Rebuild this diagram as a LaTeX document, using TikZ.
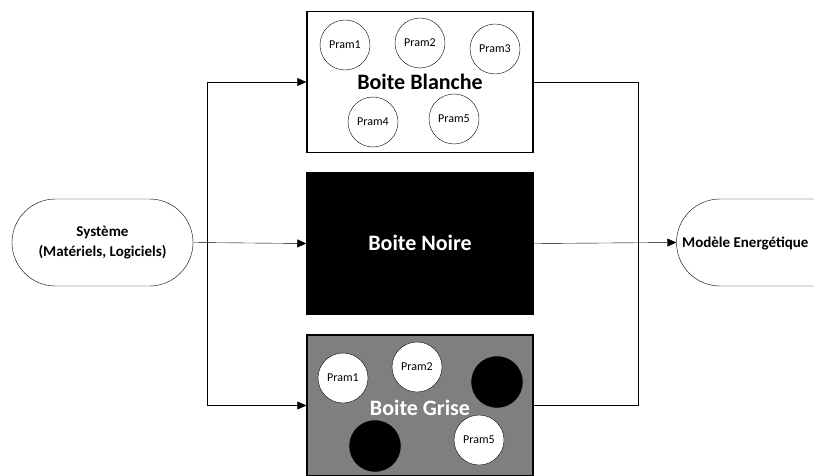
\documentclass[tikz,border=0pt]{standalone}
\usepackage{fontspec}
\setmainfont{Carlito}
\usetikzlibrary{arrows.meta,calc}
\definecolor{boxgrey}{HTML}{7F7F7F}
\tikzset{
  x=1pt,y=1pt,
  line width=1.5pt,
  stadium/.style={draw, rounded corners=43.5pt, minimum width=181pt, minimum height=87pt, inner sep=0pt, align=center, font=\bfseries\fontsize{15}{20}\selectfont},
  bigbox/.style={draw, minimum width=226pt, minimum height=141pt, inner sep=0pt, line width=1.5pt},
  param/.style={draw, circle, minimum size=50pt, inner sep=0pt, fill=white, font=\fontsize{12}{14}\selectfont},
  hidden/.style={draw, circle, minimum size=51pt, inner sep=0pt, fill=black},
  boxlabel/.style={font=\bfseries\fontsize{22}{26}\selectfont, inner sep=0pt},
  arrow/.style={-{Triangle[length=9pt,width=8pt]}},
}
\begin{document}
\begin{tikzpicture}
\useasboundingbox (0,0) rectangle (814,475);
\clip (0,0) rectangle (814,475);
% stadiums
\node[stadium] (sys) at (102.5,232.5) {Système\\(Matériels, Logiciels)};
\node[stadium] (mod) at (767,232.5) {};
\node[anchor=west, inner sep=0pt, font=\bfseries\fontsize{15}{20}\selectfont] (modtext) at (682,232) {Modèle Energétique};
% boxes
\node[bigbox, fill=white] (white) at (420,393) {};
\node[bigbox, fill=black] (black) at (420,231.5) {};
\node[bigbox, fill=boxgrey] (grey) at (420,69.5) {};
% white box contents
\node[param] (w1) at (345,430) {Pram1};
\node[param] (w2) at (420,432) {Pram2};
\node[param] (w3) at (495,426) {Pram3};
\node[param] (w4) at (373,353) {Pram4};
\node[param] (w5) at (454,356) {Pram5};
\node[boxlabel] (wl) at (420,393) {Boite Blanche};
% black box label
\node[boxlabel, text=white] (bl) at (420,232) {Boite Noire};
% grey box contents
\node[param] (g1) at (343,97) {Pram1};
\node[param] (g2) at (417,108) {Pram2};
\node[hidden] (g3) at (497,93) {};
\node[hidden] (g4) at (375,29) {};
\node[param] (g5) at (479,35) {Pram5};
\node[boxlabel, text=white] (gl) at (420,67) {Boite Grise};
% connectors
\coordinate (jl) at (207,232);
\coordinate (jr) at (638,232);
\draw[arrow] (sys.east) -- (black.west);
\draw[arrow] (jl) |- (white.west);
\draw[arrow] (jl) |- (grey.west);
\draw (white.east) -| (jr);
\draw (grey.east) -| (jr);
\draw[arrow] (black.east) -- (mod.west);
\end{tikzpicture}
\end{document}
